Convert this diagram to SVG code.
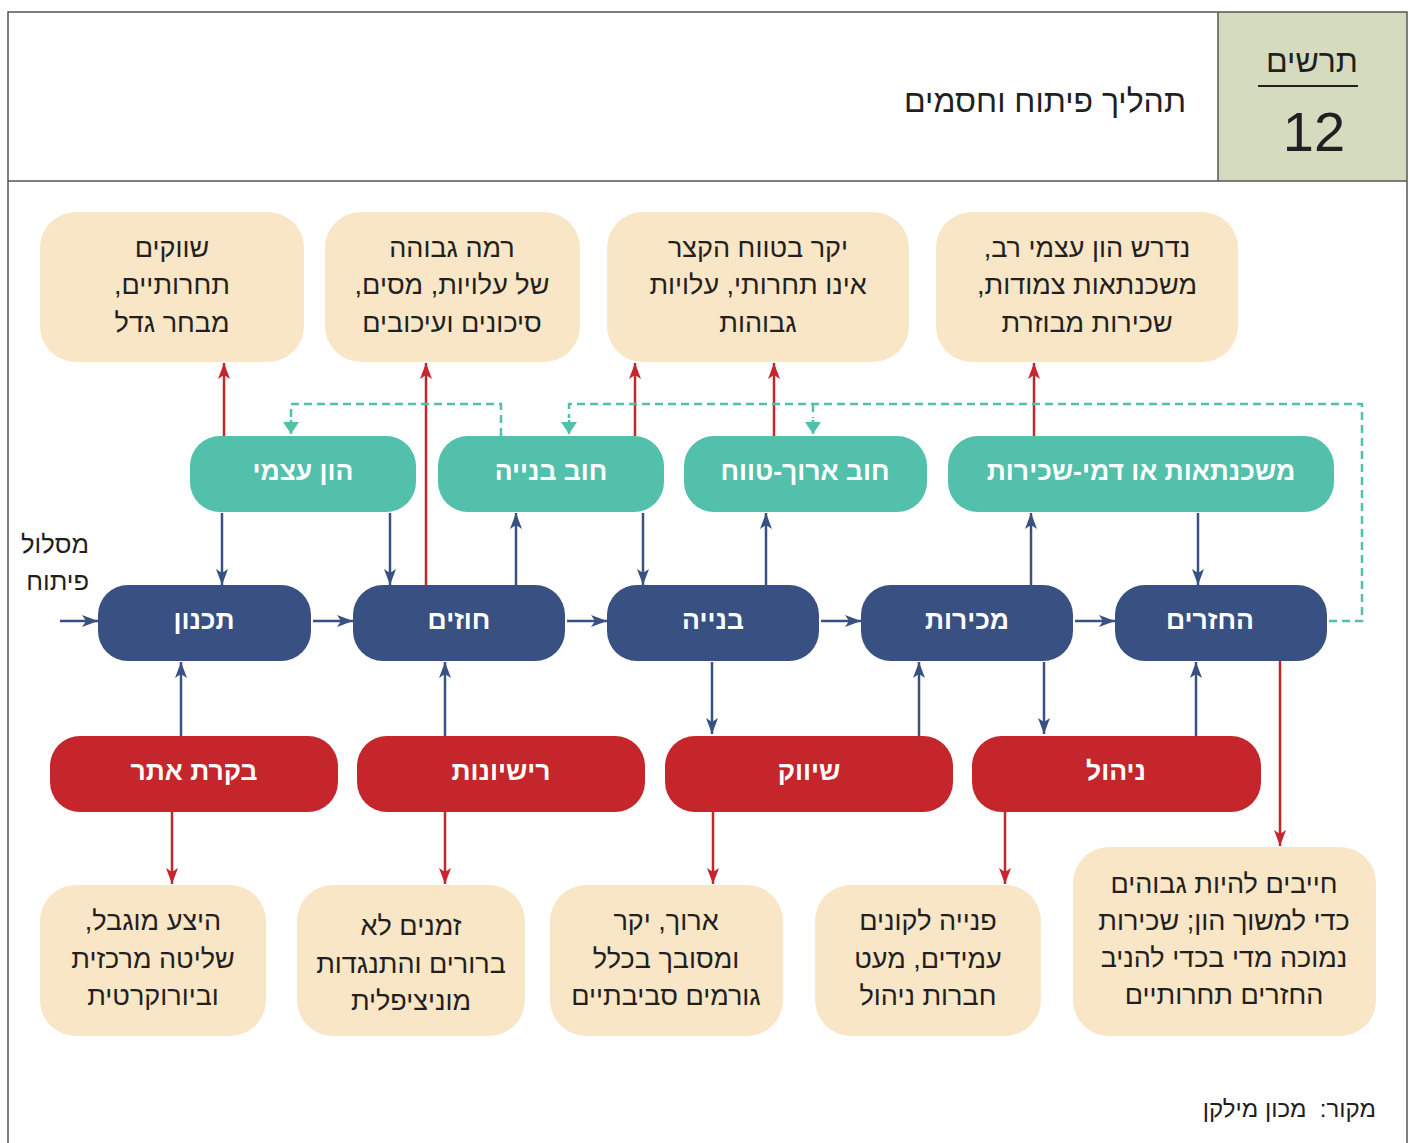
<svg xmlns="http://www.w3.org/2000/svg" width="1410" height="1143" viewBox="0 0 1410 1143">
<style>
.beige{fill:#f8e6c6}
.teal{fill:#52c0ab}
.blue{fill:#385082}
.red{fill:#c4262b}
.t{font-family:"Liberation Sans","DejaVu Sans",sans-serif;font-size:27px;fill:#231f20;direction:rtl;text-anchor:middle}
.lbl{font-family:"Liberation Sans","DejaVu Sans",sans-serif;font-size:26.5px;font-weight:bold;fill:#ffffff;direction:rtl;text-anchor:middle}
.cb{stroke:#385082;stroke-width:2.5;fill:none;marker-end:url(#ab)}
.cr{stroke:#c4262b;stroke-width:2.5;fill:none;marker-end:url(#ar)}
.cg{stroke:#52c0ab;stroke-width:2.5;fill:none;stroke-dasharray:8 5}
.cga{marker-end:url(#ag)}
</style>
<defs>
<marker id="ab" markerUnits="userSpaceOnUse" markerWidth="18" markerHeight="14" refX="16" refY="7" orient="auto"><path d="M0,1 L16,7 L0,13 L4,7 z" fill="#385082"/></marker>
<marker id="ar" markerUnits="userSpaceOnUse" markerWidth="18" markerHeight="14" refX="16" refY="7" orient="auto"><path d="M0,1 L16,7 L0,13 L4,7 z" fill="#c4262b"/></marker>
<marker id="ag" markerUnits="userSpaceOnUse" markerWidth="14" markerHeight="18" refX="12" refY="9" orient="auto"><path d="M0,1 L12,9 L0,17 z" fill="#52c0ab"/></marker>
</defs>
<rect x="0" y="0" width="1410" height="1143" fill="#ffffff"/>
<g id="frame">
<rect x="1218" y="12" width="189" height="169" fill="#d5dbbf"/>
<path d="M8,1143 L8,12 L1407,12 L1407,1143" fill="none" stroke="#555" stroke-width="1.5"/>
<line x1="8" y1="181" x2="1407" y2="181" stroke="#555" stroke-width="1.5"/>
<line x1="1218" y1="12" x2="1218" y2="181" stroke="#555" stroke-width="1.5"/>
<line x1="1258" y1="86" x2="1358" y2="86" stroke="#231f20" stroke-width="2"/>
<text x="1312" y="72" class="t" style="font-size:32px">תרשים</text>
<text x="1314" y="151" class="t" style="font-size:56px;direction:ltr">12</text>
<text x="1186" y="112" class="t" style="font-size:32px;text-anchor:start">תהליך פיתוח וחסמים</text>
<text x="89" y="553" class="t" style="font-size:25.5px;text-anchor:start">מסלול</text>
<text x="89" y="590" class="t" style="font-size:25.5px;text-anchor:start">פיתוח</text>
<text x="1376" y="1117" class="t" style="font-size:24px;text-anchor:start">מקור:&#160; מכון מילקן</text>
</g>
<g id="connectors">
<line class="cb" x1="60" y1="621" x2="98" y2="621"/>
<line class="cb" x1="313" y1="621" x2="353" y2="621"/>
<line class="cb" x1="567" y1="621" x2="607" y2="621"/>
<line class="cb" x1="821" y1="621" x2="861" y2="621"/>
<line class="cb" x1="1075" y1="621" x2="1115" y2="621"/>
<line class="cb" x1="222" y1="513" x2="222" y2="585"/>
<line class="cb" x1="390" y1="513" x2="390" y2="585"/>
<line class="cb" x1="516" y1="585" x2="516" y2="513"/>
<line class="cb" x1="643" y1="513" x2="643" y2="585"/>
<line class="cb" x1="766" y1="585" x2="766" y2="513"/>
<line class="cb" x1="1031" y1="585" x2="1031" y2="513"/>
<line class="cb" x1="1198" y1="513" x2="1198" y2="585"/>
<line class="cb" x1="181" y1="736" x2="181" y2="662"/>
<line class="cb" x1="445" y1="736" x2="445" y2="662"/>
<line class="cb" x1="712" y1="662" x2="712" y2="734"/>
<line class="cb" x1="919" y1="736" x2="919" y2="662"/>
<line class="cb" x1="1044" y1="662" x2="1044" y2="734"/>
<line class="cb" x1="1196" y1="736" x2="1196" y2="662"/>
<line class="cr" x1="224" y1="436" x2="224" y2="363"/>
<line class="cr" x1="426" y1="585" x2="426" y2="363"/>
<line class="cr" x1="635" y1="436" x2="635" y2="363"/>
<line class="cr" x1="774" y1="436" x2="774" y2="363"/>
<line class="cr" x1="1034" y1="436" x2="1034" y2="363"/>
<line class="cr" x1="172" y1="811" x2="172" y2="884"/>
<line class="cr" x1="445" y1="811" x2="445" y2="884"/>
<line class="cr" x1="713" y1="811" x2="713" y2="884"/>
<line class="cr" x1="1005" y1="811" x2="1005" y2="884"/>
<line class="cr" x1="1280" y1="661" x2="1280" y2="846"/>
<path class="cg" d="M501,436 L501,404 L291,404 L291,418"/>
<path class="cg cga" d="M291,420 L291,434" style="stroke-dasharray:none"/>
<path class="cg" d="M1329,621 L1362,621 L1362,404 L569,404 L569,418"/>
<path class="cg cga" d="M569,420 L569,434" style="stroke-dasharray:none"/>
<path class="cg" d="M813,404 L813,418"/>
<path class="cg cga" d="M813,420 L813,434" style="stroke-dasharray:none"/>
</g>
<g id="top1"><rect class="beige" x="40" y="212" width="264" height="150" rx="36"/>
<text class="t" x="172" y="257">שווקים</text><text class="t" x="172" y="294">תחרותיים,</text><text class="t" x="172" y="332">מבחר גדל</text></g>
<g id="top2"><rect class="beige" x="325" y="212" width="255" height="150" rx="36"/>
<text class="t" x="452" y="257">רמה גבוהה</text><text class="t" x="452" y="294">של עלויות, מסים,</text><text class="t" x="452" y="332">סיכונים ועיכובים</text></g>
<g id="top3"><rect class="beige" x="607" y="212" width="302" height="150" rx="36"/>
<text class="t" x="758" y="257">יקר בטווח הקצר</text><text class="t" x="758" y="294">אינו תחרותי, עלויות</text><text class="t" x="758" y="332">גבוהות</text></g>
<g id="top4"><rect class="beige" x="936" y="212" width="302" height="150" rx="36"/>
<text class="t" x="1087" y="257">נדרש הון עצמי רב,</text><text class="t" x="1087" y="294">משכנתאות צמודות,</text><text class="t" x="1087" y="332">שכירות מבוזרת</text></g>
<g id="equity"><rect class="teal" x="190" y="436" width="226" height="76" rx="30"/><text class="lbl" x="303" y="480">הון עצמי</text></g>
<g id="constdebt"><rect class="teal" x="438" y="436" width="226" height="76" rx="30"/><text class="lbl" x="551" y="480">חוב בנייה</text></g>
<g id="ltdebt"><rect class="teal" x="684" y="436" width="243" height="76" rx="30"/><text class="lbl" x="805" y="480">חוב ארוך-טווח</text></g>
<g id="mortgage"><rect class="teal" x="948" y="436" width="386" height="76" rx="30"/><text class="lbl" x="1141" y="480">משכנתאות או דמי-שכירות</text></g>
<g id="planning"><rect class="blue" x="98" y="585" width="213" height="76" rx="30"/><text class="lbl" x="204" y="629">תכנון</text></g>
<g id="contracts"><rect class="blue" x="353" y="585" width="212" height="76" rx="30"/><text class="lbl" x="459" y="629">חוזים</text></g>
<g id="building"><rect class="blue" x="607" y="585" width="212" height="76" rx="30"/><text class="lbl" x="713" y="629">בנייה</text></g>
<g id="sales"><rect class="blue" x="861" y="585" width="212" height="76" rx="30"/><text class="lbl" x="967" y="629">מכירות</text></g>
<g id="returns"><rect class="blue" x="1115" y="585" width="212" height="76" rx="30"/><text class="lbl" x="1210" y="629">החזרים</text></g>
<g id="sitecontrol"><rect class="red" x="50" y="736" width="288" height="76" rx="30"/><text class="lbl" x="194" y="780">בקרת אתר</text></g>
<g id="licenses"><rect class="red" x="357" y="736" width="288" height="76" rx="30"/><text class="lbl" x="501" y="780">רישיונות</text></g>
<g id="marketing"><rect class="red" x="665" y="736" width="288" height="76" rx="30"/><text class="lbl" x="809" y="780">שיווק</text></g>
<g id="management"><rect class="red" x="972" y="736" width="289" height="76" rx="30"/><text class="lbl" x="1116" y="780">ניהול</text></g>
<g id="bot1"><rect class="beige" x="40" y="885" width="226" height="151" rx="36"/>
<text class="t" x="153" y="930">היצע מוגבל,</text><text class="t" x="153" y="968">שליטה מרכזית</text><text class="t" x="153" y="1005">וביורוקרטית</text></g>
<g id="bot2"><rect class="beige" x="297" y="885" width="228" height="151" rx="36"/>
<text class="t" x="411" y="935">זמנים לא</text><text class="t" x="411" y="973">ברורים והתנגדות</text><text class="t" x="411" y="1010">מוניציפלית</text></g>
<g id="bot3"><rect class="beige" x="550" y="885" width="233" height="151" rx="36"/>
<text class="t" x="666" y="930">ארוך, יקר</text><text class="t" x="666" y="968">ומסובך בכלל</text><text class="t" x="666" y="1005">גורמים סביבתיים</text></g>
<g id="bot4"><rect class="beige" x="815" y="885" width="226" height="151" rx="36"/>
<text class="t" x="928" y="930">פנייה לקונים</text><text class="t" x="928" y="968">עמידים, מעט</text><text class="t" x="928" y="1005">חברות ניהול</text></g>
<g id="bot5"><rect class="beige" x="1073" y="847" width="303" height="189" rx="36"/>
<text class="t" x="1224" y="893">חייבים להיות גבוהים</text><text class="t" x="1224" y="930">כדי למשוך הון; שכירות</text><text class="t" x="1224" y="967">נמוכה מדי בכדי להניב</text><text class="t" x="1224" y="1004">החזרים תחרותיים</text></g>
</svg>
